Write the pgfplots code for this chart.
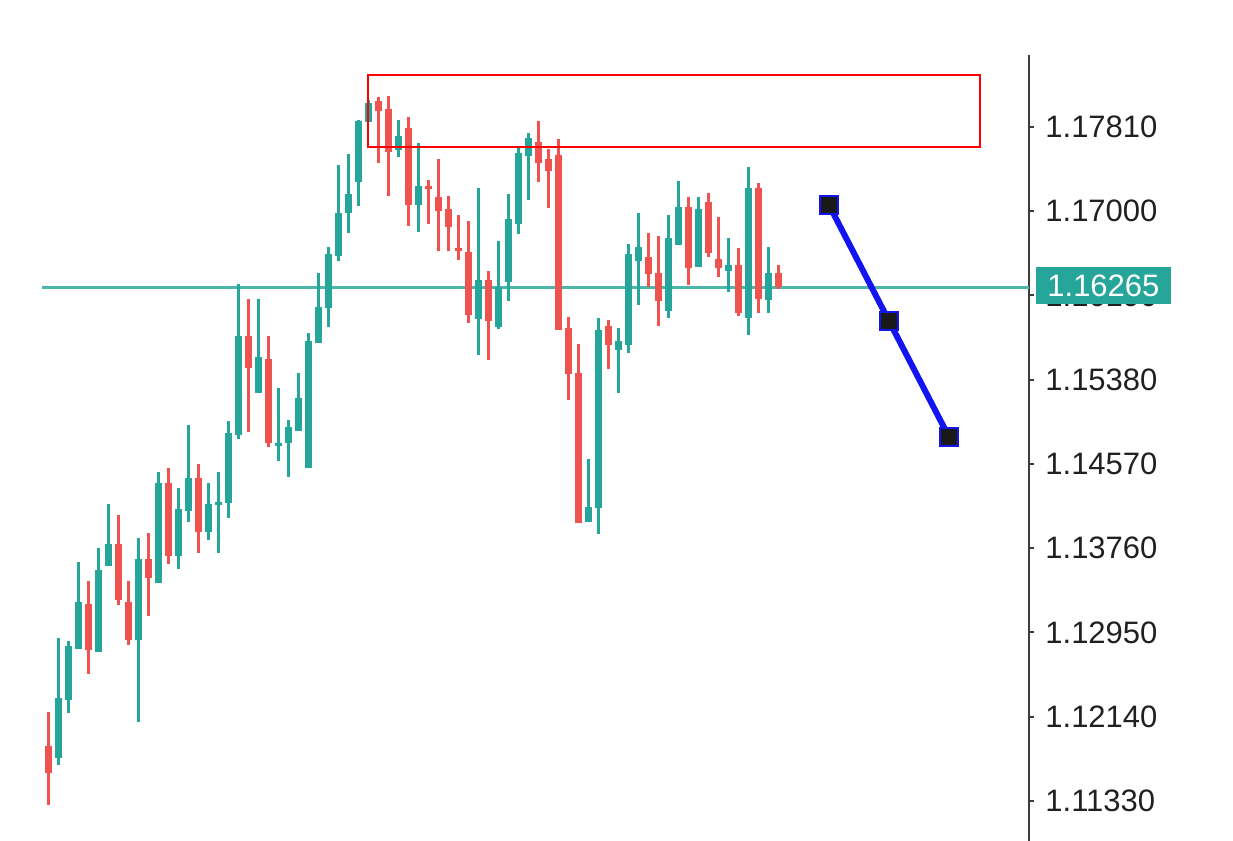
\documentclass[border=0pt]{standalone}
\usepackage{pgfplots}
\pgfplotsset{compat=1.18}
\usepackage{pgfplotstable}
\usepackage{fontspec}
\setmainfont{Liberation Sans}
\definecolor{cgreen}{HTML}{26A69A}
\definecolor{cred}{HTML}{EF5350}
\definecolor{chline}{HTML}{4DB6AC}
\definecolor{cblue}{HTML}{1414F0}
\definecolor{caxis}{HTML}{3C3C3C}
\definecolor{ctext}{HTML}{202020}

\pgfplotstableread{
i o h l c
1 1.11740 1.12894 1.11675 1.12317
2 1.12300 1.12871 1.12172 1.12820
3 1.12788 1.13630 1.12788 1.13246
5 1.12765 1.13759 1.12765 1.13550
6 1.13592 1.14185 1.13592 1.13800
9 1.12877 1.13855 1.12092 1.13653
11 1.13422 1.14490 1.13422 1.14384
13 1.13685 1.14336 1.13557 1.14134
14 1.14121 1.14945 1.14015 1.14438
16 1.13919 1.14390 1.13839 1.14185
17 1.14175 1.14490 1.13717 1.14207
18 1.14197 1.14986 1.14047 1.14865
19 1.14848 1.16300 1.14807 1.15800
21 1.15249 1.16153 1.15249 1.15601
23 1.14746 1.15297 1.14601 1.14774
24 1.14769 1.14993 1.14447 1.14928
25 1.14890 1.15447 1.14890 1.15201
26 1.14528 1.15832 1.14528 1.15755
27 1.15730 1.16409 1.15730 1.16082
28 1.16067 1.16659 1.15890 1.16589
29 1.16570 1.17445 1.16524 1.16986
30 1.16986 1.17547 1.16794 1.17166
31 1.17284 1.17877 1.17050 1.17871
32 1.17861 1.18070 1.17861 1.18044
35 1.17589 1.17877 1.17519 1.17723
37 1.17060 1.17653 1.16803 1.17243
43 1.15961 1.17221 1.15618 1.16339
45 1.15884 1.16717 1.15865 1.16274
46 1.16322 1.17166 1.16140 1.16922
47 1.16877 1.17605 1.16781 1.17557
48 1.17531 1.17749 1.17108 1.17701
54 1.14015 1.14615 1.14015 1.14153
55 1.14144 1.15973 1.13897 1.15858
57 1.15661 1.15874 1.15255 1.15757
58 1.15714 1.16688 1.15637 1.16592
59 1.16522 1.16986 1.16098 1.16659
62 1.16044 1.16964 1.15971 1.16740
63 1.16675 1.17294 1.16675 1.17044
65 1.16467 1.17140 1.16467 1.17019
68 1.16428 1.16740 1.16226 1.16483
70 1.15971 1.17422 1.15810 1.17221
72 1.16147 1.16659 1.16019 1.16403
}\greentab

\pgfplotstableread{
i o h l c
0 1.11858 1.12188 1.11291 1.11596
4 1.13223 1.13447 1.12550 1.12781
7 1.13800 1.14079 1.13214 1.13262
8 1.13246 1.13447 1.12829 1.12877
10 1.13653 1.13903 1.13108 1.13471
12 1.14390 1.14534 1.13608 1.13685
15 1.14438 1.14567 1.13711 1.13913
20 1.15800 1.16153 1.14880 1.15490
22 1.15576 1.15800 1.14736 1.14769
33 1.18063 1.18101 1.17461 1.17967
34 1.17980 1.18108 1.17151 1.17572
36 1.17797 1.17903 1.16858 1.17060
38 1.17243 1.17300 1.16877 1.17211
39 1.17140 1.17499 1.16621 1.17005
40 1.17019 1.17147 1.16621 1.16851
41 1.16644 1.16964 1.16531 1.16621
42 1.16611 1.16909 1.15922 1.16002
44 1.16339 1.16428 1.15570 1.15947
49 1.17669 1.17872 1.17284 1.17464
50 1.17502 1.17598 1.17028 1.17387
51 1.17546 1.17695 1.15858 1.15858
52 1.15877 1.15980 1.15185 1.15435
53 1.15445 1.15723 1.14002 1.14002
56 1.15897 1.15954 1.15483 1.15719
60 1.16557 1.16794 1.16274 1.16397
61 1.16409 1.16762 1.15897 1.16140
64 1.17044 1.17140 1.16291 1.16451
66 1.17092 1.17172 1.16557 1.16601
67 1.16538 1.16942 1.16371 1.16451
69 1.16483 1.16644 1.15993 1.16019
71 1.17221 1.17269 1.16019 1.16153
73 1.16403 1.16483 1.16249 1.16274
}\redtab

\pgfplotsset{
  wick/.style={draw=none, mark=none, forget plot,
    error bars/.cd, y dir=both, y explicit, error mark=none,
    error bar style={draw=#1, line width=1.4pt}},
  body/.style={draw=none, mark=none, forget plot,
    error bars/.cd, y dir=both, y explicit, error mark=none,
    error bar style={draw=#1, line width=3.8pt}},
}

\begin{document}
\begin{tikzpicture}
\begin{axis}[
  at={(21pt,0pt)}, anchor=south west,
  scale only axis, width=493.5pt, height=393pt,
  xmin=-0.63, xmax=98.07,
  ymin=1.109446, ymax=1.185023,
  axis x line=none, axis y line=right,
  y axis line style={-, draw=caxis, line width=1.3pt},
  ytick={1.11330,1.12140,1.12950,1.13760,1.14570,1.15380,1.16190,1.17000,1.17810},
  yticklabels={1.11330,1.12140,1.12950,1.13760,1.14570,1.15380,1.16190,1.17000,1.17810},
  tick align=outside, major tick length=2.5pt,
  ytick style={draw=caxis, line width=1pt},
  yticklabel style={font=\fontsize{15.5}{18}\selectfont, text=ctext, anchor=west, inner sep=0pt, xshift=5.5pt},
  clip=false,
]
% horizontal price line
\addplot[chline, line width=1.3pt, forget plot] coordinates {(-0.63,1.16265) (98.07,1.16265)};
% wicks
\addplot[wick=cgreen] table[x=i, y expr={(\thisrow{h}+\thisrow{l})/2}, y error expr={(\thisrow{h}-\thisrow{l})/2}] {\greentab};
\addplot[wick=cred] table[x=i, y expr={(\thisrow{h}+\thisrow{l})/2}, y error expr={(\thisrow{h}-\thisrow{l})/2}] {\redtab};
% bodies
\addplot[body=cgreen] table[x=i, y expr={(\thisrow{o}+\thisrow{c})/2}, y error expr={max(abs(\thisrow{c}-\thisrow{o})/2,0.00016)}] {\greentab};
\addplot[body=cred] table[x=i, y expr={(\thisrow{o}+\thisrow{c})/2}, y error expr={max(abs(\thisrow{c}-\thisrow{o})/2,0.00016)}] {\redtab};
% zone rectangle
\addplot[draw=red, line width=1.1pt, forget plot] coordinates {(31.97,1.18310) (93.17,1.18310) (93.17,1.17618) (31.97,1.17618)} -- cycle;
% projection line
\addplot[cblue, line width=3pt, mark=square*, mark size=4.6pt,
  mark options={fill=black!90, draw=cblue, line width=0.9pt, solid}]
  coordinates {(78.07,1.17060) (84.07,1.15945) (90.07,1.14829)};
\end{axis}
% current price label
\fill[cgreen] (518pt,268.5pt) rectangle (585.5pt,287pt);
\node[anchor=west, inner sep=0pt, text=white, font=\fontsize{15.5}{18}\selectfont] at (523.5pt,277.75pt) {1.16265};
\pgfresetboundingbox
\path[use as bounding box] (0,0) rectangle (616.5pt,420.5pt);
\end{tikzpicture}
\end{document}
